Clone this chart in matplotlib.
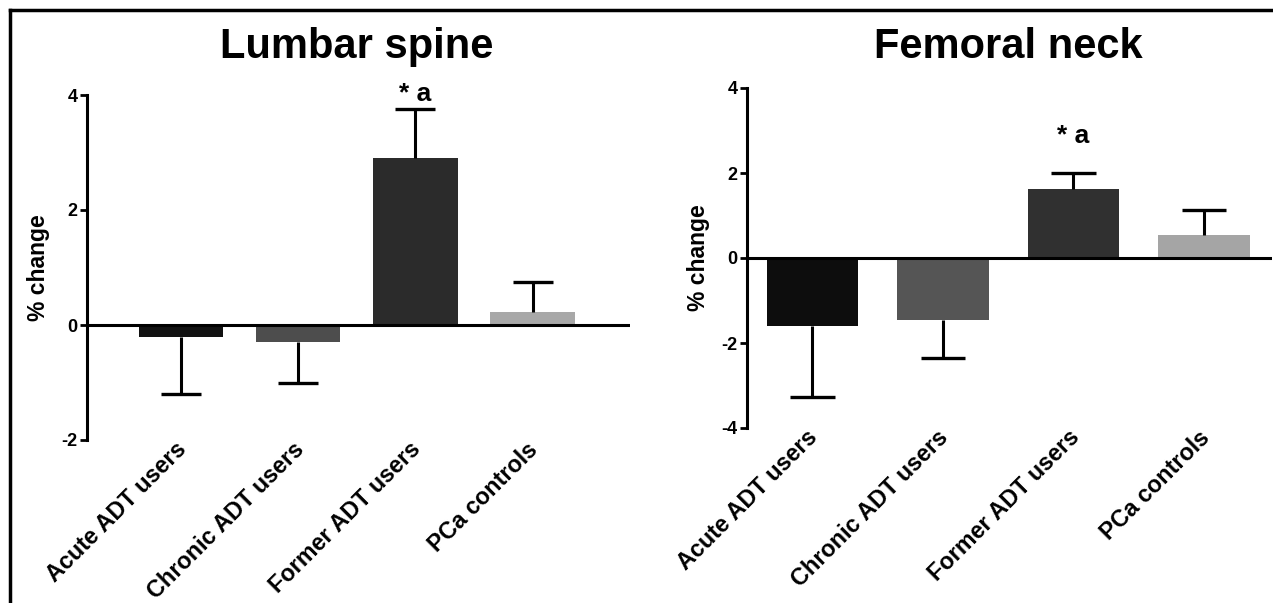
import numpy as np
import matplotlib
matplotlib.use("Agg")
import matplotlib.pyplot as plt
from matplotlib.lines import Line2D
from matplotlib.transforms import ScaledTranslation

plt.rcParams["font.family"] = ["Liberation Sans", "DejaVu Sans"]
plt.rcParams["font.weight"] = "bold"

groups = ["Acute ADT users", "Chronic ADT users", "Former ADT users", "PCa controls"]
colors_lumbar = ["#111111", "#4d4d4d", "#2b2b2b", "#a8a8a8"]
colors_femoral = ["#0d0d0d", "#555555", "#303030", "#a5a5a5"]

lumbar_mean = [-0.2, -0.3, 2.9, 0.22]
lumbar_err = [1.0, 0.7, 0.85, 0.53]
femoral_mean = [-1.6, -1.45, 1.63, 0.53]
femoral_err = [1.67, 0.9, 0.37, 0.6]

fig = plt.figure(figsize=(12.73, 6.03), dpi=100)

# outer frame (only top and left edges show)
fig.add_artist(Line2D([10 / 1273, 1.0], [1 - 10 / 603, 1 - 10 / 603], color="black", lw=2.5, transform=fig.transFigure))
fig.add_artist(Line2D([10 / 1273, 10 / 1273], [0, 1 - 10 / 603], color="black", lw=2.5, transform=fig.transFigure))


def panel(rect, means, errs, colors, ylim, yticks, xlim, width, title, title_x, star_y):
    ax = fig.add_axes(rect)
    x = np.arange(len(groups))
    means = np.array(means)
    ends = means + np.sign(means) * np.array(errs)
    ax.bar(x, means, width=width, color=colors, zorder=2)
    # one-sided error bars, away from zero
    ax.vlines(x, means, ends, color="black", lw=2.2, zorder=3)
    ax.hlines(ends, x - 0.17, x + 0.17, color="black", lw=2.4, zorder=3)
    ax.axhline(0, color="black", lw=2.2, zorder=4)
    ax.set_xlim(*xlim)
    ax.set_ylim(*ylim)
    ax.set_yticks(yticks)
    ax.set_yticklabels([str(t) for t in yticks], fontsize=13, fontweight="bold")
    # category labels drawn as text so they can sit a little up-left of the tick
    ax.set_xticks([])
    shift = ScaledTranslation(-6 / 100, 2 / 100, fig.dpi_scale_trans)
    for xi, g in zip(x, groups):
        ax.text(xi, 0, g, transform=ax.get_xaxis_transform() + shift,
                rotation=45, ha="right", va="top", rotation_mode="anchor",
                fontsize=16.8, fontweight="bold")
    ax.tick_params(axis="y", length=5, width=2, pad=2)
    for s in ["top", "right", "bottom"]:
        ax.spines[s].set_visible(False)
    ax.spines["left"].set_linewidth(2.2)
    ax.set_ylabel("% change", fontsize=16.5, fontweight="bold", labelpad=8)
    ax.text(2, star_y, "* a", ha="center", va="baseline", fontsize=19, fontweight="bold")
    fig.text(title_x, 1 - 58 / 603, title, ha="center", va="baseline",
             fontsize=30, fontweight="bold")
    return ax


panel([87 / 1273, 1 - 440 / 603, 543 / 1273, 345 / 603], lumbar_mean, lumbar_err,
      colors_lumbar, (-2, 4), [-2, 0, 2, 4], (-0.8, 3.83), 0.72,
      "Lumbar spine", 357 / 1273, 3.9)
panel([747 / 1273, 1 - 428 / 603, 525 / 1273, 340 / 603], femoral_mean, femoral_err,
      colors_femoral, (-4, 4), [-4, -2, 0, 2, 4], (-0.5, 3.52), 0.70,
      "Femoral neck", 1008 / 1273, 2.7)

fig.savefig("out.png", dpi=100, facecolor="white")
